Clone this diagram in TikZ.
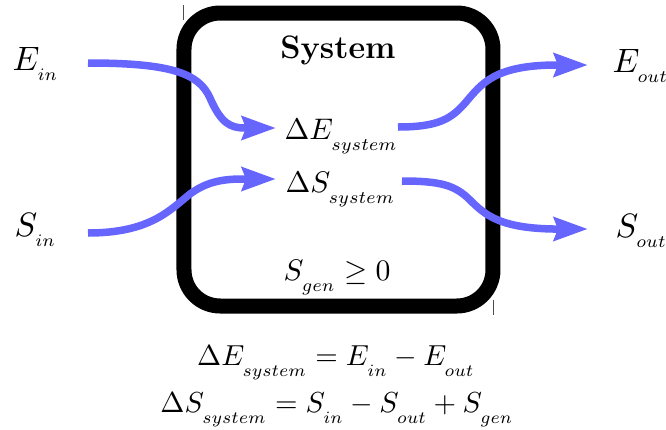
\documentclass[tikz,border=0pt]{standalone}
\usepackage{graphicx}
\usetikzlibrary{arrows.meta}
\definecolor{flow}{RGB}{102,102,255}
% lowered, reduced subscripts (outer labels / inner labels)
\newcommand{\dn}[1]{_{\lower0.15em\hbox{\scalebox{0.74}{$\scriptstyle #1$}}}}
\newcommand{\dns}[1]{_{\lower0.25em\hbox{\scalebox{0.85}{$\scriptstyle #1$}}}}
\begin{document}
\begin{tikzpicture}[x=0.013cm,y=-0.013cm,
  lbl/.style={inner sep=0pt, font=\normalsize, scale=1.25, transform shape},
  inlbl/.style={inner sep=0pt, font=\normalsize, scale=1.1, transform shape},
  eqlbl/.style={inner sep=0pt, font=\normalsize, scale=1.07, transform shape},
  ttl/.style={inner sep=0pt, font=\large\bfseries},
  flowline/.style={draw=flow, line width=0.0975cm,
    -{Stealth[length=0.44cm, width=0.30cm, inset=0.05cm]}},
  sysbox/.style={draw=black, line width=0.195cm, rounded corners=0.47cm},
  tick/.style={draw=black!70, line width=0.3pt}]
\useasboundingbox (0,0) rectangle (666,430);

% system boundary
\draw[sysbox] (184,13) rectangle (493,306);
\draw[tick] (183,5) -- (183,20);
\draw[tick] (493,300) -- (493,315);

% labels
\node[ttl, anchor=base] (sys) at (338,58) {System};
\node[lbl, anchor=base west] (Ein) at (12,70) {$E\dn{in}$};
\node[lbl, anchor=base west] (Sin) at (14,236) {$S\dn{in}$};
\node[lbl, anchor=base west] (Eout) at (612,72) {$E\dn{out}$};
\node[lbl, anchor=base west] (Sout) at (615,237) {$S\dn{out}$};
\node[inlbl, anchor=base west] (dE) at (284,139) {$\Delta E\dns{system}$};
\node[inlbl, anchor=base west] (dS) at (285,192) {$\Delta S\dns{system}$};
\node[inlbl, anchor=base west] (Sgen) at (283,280) {$S\dns{gen}\geq 0$};
\node[eqlbl, anchor=base] (eq1) at (336,365) {$\Delta E\dns{system} = E\dns{in} - E\dns{out}$};
\node[eqlbl, anchor=base] (eq2) at (337,412) {$\Delta S\dns{system} = S\dns{in} - S\dns{out} + S\dns{gen}$};

% connector points
\coordinate (ein-s) at (88,63);
\coordinate (ein-m) at (210,98);
\coordinate (ein-h) at (245,128);
\coordinate (ein-t) at (276,128);
\coordinate (sin-s) at (88,233);
\coordinate (sin-m) at (190,194);
\coordinate (sin-h) at (242,179);
\coordinate (sin-t) at (276,179);
\coordinate (eout-s) at (398,127);
\coordinate (eout-m) at (466,102);
\coordinate (eout-h) at (553,65);
\coordinate (eout-t) at (588,65);
\coordinate (sout-s) at (402,181);
\coordinate (sout-m) at (470,200);
\coordinate (sout-h) at (553,229);
\coordinate (sout-t) at (588,229);

% flows
\draw[flowline] (ein-s) .. controls (170,63) and (199,73) .. (ein-m)
  .. controls (221,123) and (230,128) .. (ein-h) -- (ein-t);
\draw[flowline] (sin-s) .. controls (150,233) and (170,210) .. (sin-m)
  .. controls (205,183) and (220,179) .. (sin-h) -- (sin-t);
\draw[flowline] (eout-s) .. controls (440,127) and (452,118) .. (eout-m)
  .. controls (482,83) and (495,66) .. (eout-h) -- (eout-t);
\draw[flowline] (sout-s) .. controls (440,181) and (455,185) .. (sout-m)
  .. controls (485,215) and (500,228) .. (sout-h) -- (sout-t);
\end{tikzpicture}
\end{document}
